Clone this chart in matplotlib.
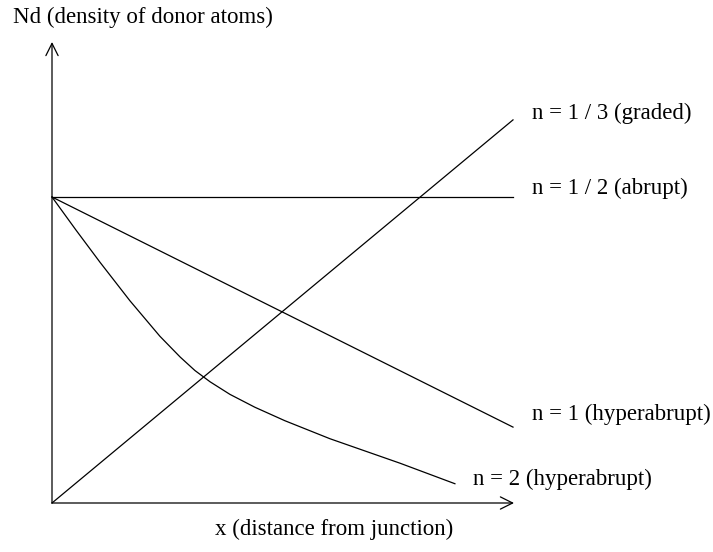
import numpy as np
import matplotlib
matplotlib.use("Agg")
import matplotlib.pyplot as plt

# Doping profiles sketch, x and Nd in relative units (Nd0 = 1 at the junction)
n13_x = [0.0, 1.0]
n13_y = [0.0, 1.252]
n12_x = [0.0, 1.0]
n12_y = [1.0, 1.0]
n1_x = [0.0, 1.0]
n1_y = [1.0, 0.248]
n2_x = [0.0, 0.052, 0.104, 0.169, 0.234, 0.278, 0.310, 0.343, 0.386,
        0.440, 0.505, 0.603, 0.755, 0.874]
n2_y = [1.0, 0.892, 0.787, 0.661, 0.545, 0.477, 0.433, 0.396, 0.355,
        0.313, 0.269, 0.210, 0.130, 0.063]

labels = ["n = 1 / 3 (graded)", "n = 1 / 2 (abrupt)", "n = 1 (hyperabrupt)", "n = 2 (hyperabrupt)"]
ylabel = "Nd (density of donor atoms)"
xlabel = "x (distance from junction)"

plt.rcParams['font.family'] = ['Liberation Serif', 'DejaVu Serif']

fig = plt.figure(figsize=(7.13, 5.52), dpi=100)
ax = fig.add_axes([0, 0, 1, 1])
W, H = 713, 552
x0, y0, sx, sy = 52, 503, 461, 306
ax.set_xlim(-x0 / sx, (W - x0) / sx)
ax.set_ylim(-(H - y0) / sy, y0 / sy)
ax.axis('off')

lw = 0.9
ax.plot(n13_x, n13_y, color='black', lw=lw)
ax.plot(n12_x, n12_y, color='black', lw=lw)
ax.plot(n1_x, n1_y, color='black', lw=lw)
ax.plot(n2_x, n2_y, color='black', lw=lw, solid_joinstyle='round')

# axes with open arrow heads
arrow = dict(arrowstyle='->', color='black', lw=lw, mutation_scale=22,
             shrinkA=0, shrinkB=0)
ax.annotate('', xy=(0, (y0 - 42) / sy), xytext=(0, 0), arrowprops=arrow)
ax.annotate('', xy=((514 - x0) / sx, 0), xytext=(0, 0), arrowprops=arrow)

fs = 16.5
def px_text(px, py, s):
    fig.text(px / W, 1 - py / H, s, fontsize=fs, ha='left', va='center')

px_text(13, 17, ylabel)
px_text(532, 113, labels[0])
px_text(532, 188, labels[1])
px_text(532, 414, labels[2])
px_text(473, 479, labels[3])
px_text(215, 529, xlabel)

fig.savefig("out.png", dpi=100, facecolor='white')
